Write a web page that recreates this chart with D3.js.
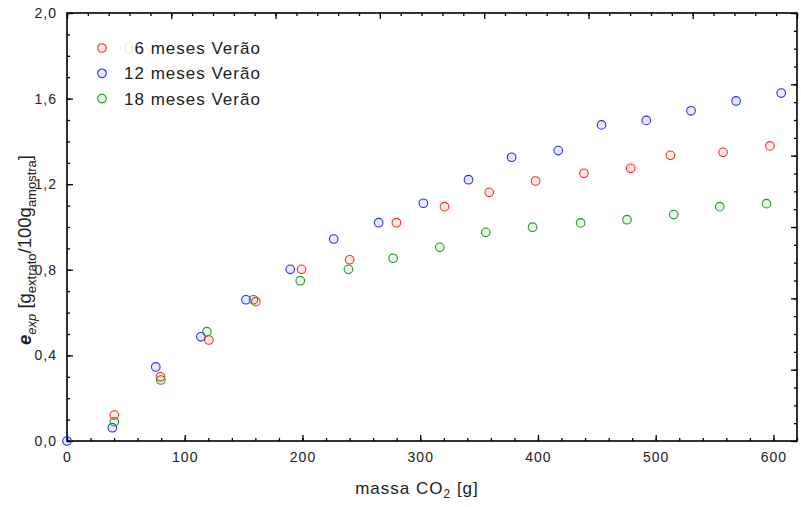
<!DOCTYPE html>
<meta charset="utf-8">
<script src="https://d3js.org/d3.v7.min.js"></script>
<style>
  body { margin: 0; background: #fff; }
  text { font-family: "Liberation Sans", Arial, sans-serif; fill: #222; }
</style>
<div id="my_dataviz"></div>
<script>

// data: massa CO2 [g] and e_exp
var massa6  = [40.2, 79.4, 120.5, 160.4, 199.2, 240.1, 279.8, 320.6, 358.6, 398, 439, 478.7, 512.5, 557.2, 597];
var e6      = [0.121, 0.300, 0.472, 0.651, 0.802, 0.847, 1.020, 1.095, 1.162, 1.215, 1.251, 1.274, 1.335, 1.349, 1.379];

var massa12 = [0, 38.5, 75.4, 113.7, 152, 189.6, 226.5, 264.7, 302.7, 341, 377.6, 417.2, 454, 492, 530, 568.3, 606.6];
var e12     = [0, 0.062, 0.346, 0.487, 0.660, 0.802, 0.944, 1.020, 1.111, 1.221, 1.326, 1.357, 1.477, 1.498, 1.543, 1.589, 1.626];

var massa18 = [40.2, 79.7, 118.8, 158.4, 198.1, 239, 277, 316.6, 355.7, 395.4, 436.2, 475.6, 515.3, 554.4, 594.1];
var e18     = [0.090, 0.285, 0.511, 0.660, 0.749, 0.802, 0.854, 0.905, 0.975, 0.999, 1.019, 1.034, 1.058, 1.095, 1.109];

var seriesNames = ["6 meses Verão", "12 meses Verão", "18 meses Verão"];
var xTicks = [0, 100, 200, 300, 400, 500, 600];
var yTicks = [0, 0.4, 0.8, 1.2, 1.6, 2.0];

var colors = ["#ff2a2a", "#2a2aff", "#1f9a1f"];

var margin = {top: 13, right: 4, bottom: 66, left: 67},
    width = 801 - margin.left - margin.right,
    height = 507 - margin.top - margin.bottom;

var svg = d3.select("#my_dataviz")
  .append("svg")
    .attr("width", 801)
    .attr("height", 507)
  .append("g")
    .attr("transform", "translate(" + margin.left + "," + margin.top + ")");

var x = d3.scaleLinear().domain([0, 620]).range([0, width]);
var y = d3.scaleLinear().domain([0, 2.0]).range([height, 0]);
// the frame's right and top sides carry their own unlabelled divisions
var yRight = d3.scaleLinear().domain([0, 24]).range([height, 0]);
var xTop = d3.scaleLinear().domain([0, 35]).range([0, width]);

var comma = function(d) { return d3.format(".1f")(d).replace(".", ","); };

function styleAxis(g) {
  g.select(".domain").remove();
  g.selectAll("line").attr("stroke", "#000").attr("stroke-width", 1.3);
  g.selectAll("text")
    .style("font-size", "14px")
    .style("letter-spacing", "1px")
    .attr("fill", "#222");
}

// minor ticks
svg.append("g")
  .attr("transform", "translate(0," + height + ")")
  .call(d3.axisBottom(x).tickValues(d3.range(0, 621, 20)).tickSize(-3).tickFormat(""))
  .call(styleAxis);
svg.append("g")
  .call(d3.axisLeft(y).tickValues(d3.range(0, 21).map(function(d) { return d / 10; })).tickSize(-3).tickFormat(""))
  .call(styleAxis);
svg.append("g")
  .attr("transform", "translate(" + width + ",0)")
  .call(d3.axisRight(yRight).ticks(24).tickSize(-3).tickFormat(""))
  .call(styleAxis);
svg.append("g")
  .call(d3.axisTop(xTop).ticks(35).tickSize(-3).tickFormat(""))
  .call(styleAxis);

// major ticks
svg.append("g")
  .attr("transform", "translate(0," + height + ")")
  .call(d3.axisBottom(x).tickValues(xTicks).tickSize(-6).tickPadding(11))
  .call(styleAxis);
svg.append("g")
  .call(d3.axisLeft(y).tickValues(yTicks).tickSize(-6).tickPadding(10).tickFormat(comma))
  .call(styleAxis);
svg.append("g")
  .attr("transform", "translate(" + width + ",0)")
  .call(d3.axisRight(yRight).tickValues(d3.range(0, 25, 4)).tickSize(-6).tickFormat(""))
  .call(styleAxis);
svg.append("g")
  .call(d3.axisTop(xTop).tickValues(d3.range(0, 36, 5)).tickSize(-6).tickFormat(""))
  .call(styleAxis);

// frame
svg.append("rect")
  .attr("width", width)
  .attr("height", height)
  .attr("fill", "none")
  .attr("stroke", "#000")
  .attr("stroke-width", 1.6);

// points (green on top, as in the picture)
var allSeries = [
  {name: seriesNames[0], xs: massa6, ys: e6, color: colors[0]},
  {name: seriesNames[1], xs: massa12, ys: e12, color: colors[1]},
  {name: seriesNames[2], xs: massa18, ys: e18, color: colors[2]}
];

allSeries.forEach(function(s) {
  svg.append("g")
    .selectAll("circle")
    .data(s.xs.map(function(v, i) { return [v, s.ys[i]]; }))
    .enter()
    .append("circle")
      .attr("cx", function(d) { return x(d[0]); })
      .attr("cy", function(d) { return y(d[1]); })
      .attr("r", 4.3)
      .attr("fill", s.color)
      .attr("fill-opacity", 0.1)
      .attr("stroke", s.color)
      .attr("stroke-width", 1.1);
});

// legend
var legend = svg.append("g").attr("transform", "translate(35,35)");
allSeries.forEach(function(s, i) {
  var row = legend.append("g").attr("transform", "translate(0," + (i * 25.3) + ")");
  row.append("circle")
    .attr("r", 4.3)
    .attr("fill", s.color)
    .attr("fill-opacity", 0.1)
    .attr("stroke", s.color)
    .attr("stroke-width", 1.1);
  var t = row.append("text")
    .attr("x", 22)
    .attr("y", 6)
    .style("font-size", "17px")
    .style("letter-spacing", "1px");
  if (i == 0) {
    // faint leftover glyph in the original legend
    t.append("tspan").attr("fill", "#f8f4c8").text("0");
  }
  t.append("tspan").text(s.name);
});

// x label
var xl = svg.append("text")
  .attr("x", 350)
  .attr("y", height + 53)
  .attr("text-anchor", "middle")
  .style("font-size", "17px")
  .style("letter-spacing", "1px");
xl.append("tspan").text("massa CO");
xl.append("tspan").attr("dy", 4).style("font-size", "12px").text("2");
xl.append("tspan").attr("dy", -4).text(" [g]");

// y label
var yl = svg.append("text")
  .attr("transform", "translate(-36,237) rotate(-90)")
  .attr("text-anchor", "middle")
  .style("font-size", "18.5px");
yl.append("tspan").style("font-weight", "bold").style("font-style", "italic").text("e");
yl.append("tspan").attr("dy", 5).style("font-size", "13px").style("font-style", "italic").text("exp");
yl.append("tspan").attr("dy", -5).text(" [g");
yl.append("tspan").attr("dy", 5).style("font-size", "13px").text("extrato");
yl.append("tspan").attr("dy", -5).text("/100g");
yl.append("tspan").attr("dy", 5).style("font-size", "13px").text("amostra");
yl.append("tspan").attr("dy", -5).text("]");

</script>
